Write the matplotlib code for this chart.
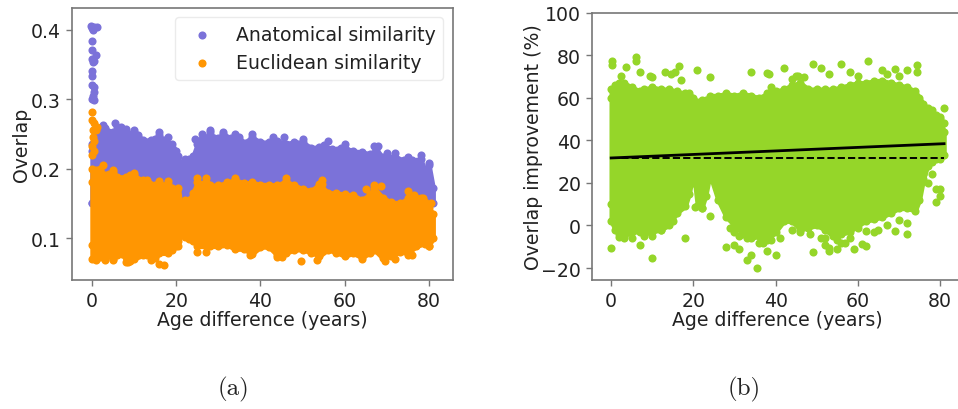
import matplotlib
matplotlib.use("Agg")
import matplotlib.pyplot as plt

# ==============================
# DATA
# ==============================

anat_age = [0, 0, 1, 2, 3, 5, 6, 8, 10, 11, 12, 14, 15, 16, 17, 19, 20, 20.5, 21, 22, 23, 24, 25, 26, 27, 28, 29, 30,
            31, 33, 35, 36, 38, 40, 42, 44, 46, 48, 50, 52, 54, 55, 57, 59, 60, 62, 64, 66, 67.5, 69, 70, 72, 74, 76,
            78, 79, 80, 81]
anat_top = [0.225, 0.235, 0.25, 0.252, 0.258, 0.252, 0.26, 0.252, 0.252, 0.248, 0.241, 0.241, 0.243, 0.248, 0.241,
            0.235, 0.225, 0.218, 0.205, 0.213, 0.214, 0.218, 0.235, 0.243, 0.244, 0.253, 0.244, 0.244, 0.25, 0.244,
            0.245, 0.237, 0.245, 0.238, 0.238, 0.24, 0.236, 0.238, 0.238, 0.23, 0.231, 0.234, 0.228, 0.23, 0.23,
            0.225, 0.224, 0.221, 0.228, 0.216, 0.218, 0.217, 0.212, 0.212, 0.214, 0.198, 0.205, 0.172]
anat_bottom = [0.15] * len(anat_age)

anat_spike_x = [-0.2, 0, 0.2, 0.4, 1.1, 0, 0, 0.4, 1.0, 0, 0.2, 0, 0, 0.1, 0.4, 0.5, -0.1, 0.3, 0.5]
anat_spike_y = [0.405, 0.402, 0.400, 0.403, 0.404, 0.383, 0.371, 0.355, 0.364, 0.357, 0.353, 0.340, 0.333, 0.320,
                0.318, 0.310, 0.300, 0.304, 0.298]
anat_edge_x = [2.5, 5.5, 7, 8, 10, 16, 18, 24.5, 26, 28, 31, 34, 38, 43, 45.5, 50, 56, 60, 67, 68, 70, 72, 75, 78, 80]
anat_edge_y = [0.262, 0.265, 0.26, 0.257, 0.256, 0.252, 0.245, 0.243, 0.25, 0.255, 0.253, 0.249, 0.25, 0.245, 0.245,
               0.242, 0.239, 0.235, 0.232, 0.232, 0.222, 0.222, 0.216, 0.219, 0.208]

eucl_age = [0, 0, 1, 2, 3, 4, 5, 6, 8, 9, 10, 12, 13, 15, 16, 18, 19, 20, 20.5, 21, 22, 23, 24, 25, 27, 28, 30, 32,
            34, 36, 38, 40, 42, 44, 46, 48, 50, 52, 54, 56, 58, 60, 62, 64, 66, 67, 69, 71, 73, 75, 77, 79, 80, 81]
eucl_top = [0.18, 0.2, 0.198, 0.2, 0.19, 0.192, 0.195, 0.188, 0.188, 0.19, 0.19, 0.183, 0.183, 0.176, 0.178, 0.178,
            0.172, 0.168, 0.172, 0.15, 0.154, 0.155, 0.165, 0.18, 0.18, 0.176, 0.176, 0.18, 0.184, 0.179, 0.18, 0.177,
            0.177, 0.176, 0.182, 0.176, 0.171, 0.168, 0.178, 0.165, 0.165, 0.163, 0.162, 0.155, 0.163, 0.172, 0.158,
            0.152, 0.15, 0.157, 0.157, 0.152, 0.143, 0.135]
eucl_bottom = [0.09, 0.07, 0.069, 0.073, 0.071, 0.075, 0.07, 0.076, 0.073, 0.067, 0.07, 0.075, 0.076, 0.071, 0.078,
               0.078, 0.083, 0.088, 0.096, 0.105, 0.102, 0.098, 0.096, 0.088, 0.088, 0.088, 0.088, 0.09, 0.084, 0.084,
               0.077, 0.087, 0.087, 0.075, 0.078, 0.083, 0.083, 0.079, 0.074, 0.083, 0.079, 0.074, 0.078, 0.072, 0.078,
               0.083, 0.071, 0.074, 0.08, 0.078, 0.088, 0.092, 0.089, 0.1]

eucl_spike_x = [0, 0, 0.4, 1.1, 0.3, 0.9, 0.2, 0.5, 0, 0.4, 0, 2.5, 16, 17, 49.5, 53.5, 25, 78.5, 80.5]
eucl_spike_y = [0.282, 0.27, 0.265, 0.26, 0.255, 0.255, 0.245, 0.24, 0.232, 0.225, 0.22, 0.205, 0.062, 0.061, 0.067,
                0.069, 0.186, 0.157, 0.15]
eucl_edge_x = [3, 5, 8, 8.5, 14, 20.5, 25, 27, 37.5, 44, 45, 64, 69.5, 72, 75, 76, 80, 5, 10, 16, 18, 27, 34, 46, 54.5,
               54.5, 65, 67, 68.5, 75, 76.5, 78]
eucl_edge_y = [0.068, 0.068, 0.065, 0.066, 0.068, 0.088, 0.08, 0.08, 0.075, 0.073, 0.073, 0.07, 0.067, 0.07, 0.076,
               0.076, 0.089, 0.198, 0.193, 0.182, 0.182, 0.186, 0.187, 0.186, 0.183, 0.178, 0.17, 0.176, 0.175, 0.167,
               0.162, 0.158]

green_age = [0, 0, 1, 2, 3, 5, 7, 8, 10, 12, 14, 16, 18, 19, 20, 21, 22, 23, 24, 26, 28, 30, 32, 34, 36, 38, 40, 42,
             44, 46, 48, 50, 52, 54, 56, 58, 60, 62, 64, 66, 68, 70, 72, 74, 75, 76, 77, 78, 79, 80, 81]
green_top = [60, 64, 66, 67, 67, 65, 63, 64, 65, 64, 64, 63, 62, 62, 60, 58, 59, 59, 61, 61, 62, 61, 62, 61, 60, 62,
             63, 64, 66, 67, 64, 64, 64, 64, 65, 66, 67, 67, 68, 68, 67, 66, 65, 63, 60, 57, 55, 54, 52, 50, 44]
green_bottom = [10, 2, -2, -4, -5, -3, -3, -4, -3, -2, 0, 6, 9, 15, 26, 9, 8, 14, 24, 12, 4, 0, -4, -6, -5, -7, -3,
                2, 2, -2, -1, 0, -2, -5, -4, -3, 0, 2, 3, 4, 6, 8, 8, 7, 12, 22, 28, 30, 31, 31, 33]

green_out_x = [0.2, 0.3, 6, 6, 3.5, 2.5, 7, 9.5, 10, 13, 14.5, 15.5, 16.5, 17, 21, 24, 34, 38, 38.5, 42, 45, 49, 51,
               53, 56, 58, 60, 62.5, 66, 67, 69, 70, 72, 74.5, 74.5, 81, 80, 81, 80, 0, 7, 10, 18, 28, 30, 31, 33, 34,
               35.5, 38, 40, 49, 52, 53, 53, 55, 57, 59, 61, 62, 69, 72, 72, 70, 76, 77, 78, 79, 80, 80, 79, 20, 20.5,
               22, 22, 24, 44, 45.5, 47, 39, 30, 29, 31, 33, 36, 37, 39, 41, 44, 46, 48.5, 51, 52, 55, 56, 58, 60, 62,
               64, 65, 67, 15, 12, 8, 5, 3, 2, 10]
green_out_y = [77, 75.5, 79, 77, 74.5, 70, 72, 70, 69.5, 72, 71, 72, 75, 68.5, 73, 69.5, 72, 71.5, 71, 74, 70, 76, 74,
               71, 76, 72, 70, 77, 73, 71, 73.5, 70, 73, 75.5, 72, 55, 51, 48, 47, -10.5, -9, -15.5, -6, -10, -9, -11,
               -16, -14, -20, -12, -14, -12.5, -9, -12, -10.5, -11, -8, -11, -8.5, -9.5, -2.5, -4, 1, 2.5, 24, 20, 24,
               17, 17, 14, 11, 20, 8.5, 8, 14, 4.5, 69, 70, 69.5, 65, -3, -1, -5, -6, -8, -8, -7, -6, -2, -3, -4, -6,
               -6, -7, -8, -6, -1, -2.5, -3, -2, 0, 2, -2, -5, -6, -6, -5.5, -5]

fit_age = [0, 81]
fit_line = [31.7, 38.4]
base_line = [31.7, 31.7]

x_ticks = [0, 20, 40, 60, 80]
overlap_ticks = [0.1, 0.2, 0.3, 0.4]
improve_ticks = [-20, 0, 20, 40, 60, 80, 100]

# ==============================
# ESTILO
# ==============================

W, H = 958, 410
PURPLE = "#7b72d9"
ORANGE = "#ff9602"
GREEN = "#95d629"
SPINE = "#777777"
TEXT = "#222222"
SIZE = 34
FS = 13.6

plt.rcParams["font.family"] = "DejaVu Sans"


def panel(x0, x1, y0, y1):
    ax = fig.add_axes([x0 / W, 1 - y1 / H, (x1 - x0) / W, (y1 - y0) / H])
    for s in ax.spines.values():
        s.set_color(SPINE)
        s.set_linewidth(1.2)
    ax.tick_params(labelsize=FS, colors=TEXT, length=4, width=1, color=SPINE, pad=4)
    ax.set_xticks(x_ticks)
    return ax


def blob(ax, age, top, bottom, color):
    # a wide edge closes the gaps between the dots, the dots keep the outline lumpy
    ax.fill_between(age, bottom, top, color=color, lw=3.2, joinstyle="round", zorder=2)
    ax.scatter(age, top, s=SIZE, color=color, lw=0, zorder=2)
    ax.scatter(age, bottom, s=SIZE, color=color, lw=0, zorder=2)


fig = plt.figure(figsize=(W / 100, H / 100), dpi=100)

# ==============================
# PANEL (a)
# ==============================

ax1 = panel(72, 453, 9, 281)
blob(ax1, anat_age, anat_top, anat_bottom, PURPLE)
ax1.scatter(anat_edge_x, anat_edge_y, s=SIZE, color=PURPLE, lw=0, zorder=2)
ax1.scatter(anat_spike_x, anat_spike_y, s=SIZE, color=PURPLE, lw=0, zorder=2, label="Anatomical similarity")
blob(ax1, eucl_age, eucl_top, eucl_bottom, ORANGE)
ax1.scatter(eucl_edge_x, eucl_edge_y, s=SIZE, color=ORANGE, lw=0, zorder=3)
ax1.scatter(eucl_spike_x, eucl_spike_y, s=SIZE, color=ORANGE, lw=0, zorder=3, label="Euclidean similarity")
ax1.set_xlim(-4.75, 85.7)
ax1.set_ylim(0.0396, 0.431)
ax1.set_yticks(overlap_ticks)
ax1.set_xlabel("Age difference (years)", fontsize=FS, color=TEXT, labelpad=0)
ax1.set_ylabel("Overlap", fontsize=FS, color=TEXT, labelpad=0)
ax1.legend(loc="upper right", fontsize=FS, bbox_to_anchor=(0.974, 0.967), borderaxespad=0, handletextpad=0.8,
           labelcolor=TEXT, scatterpoints=1, edgecolor="#e6e6e6")

# ==============================
# PANEL (b)
# ==============================

ax2 = panel(592.3, 962, 13.5, 281)
blob(ax2, green_age, green_top, green_bottom, GREEN)
ax2.scatter(green_out_x, green_out_y, s=SIZE, color=GREEN, lw=0, zorder=2)
ax2.plot(fit_age, fit_line, color="black", lw=2, zorder=4)
ax2.plot(fit_age, base_line, color="black", lw=1.4, ls="--", zorder=4)
ax2.set_xlim(-4.6, 85.37)
ax2.set_ylim(-25.6, 100)
ax2.set_yticks(improve_ticks)
ax2.set_xlabel("Age difference (years)", fontsize=FS, color=TEXT, labelpad=0)
ax2.set_ylabel("Overlap improvement (%)", fontsize=FS, color=TEXT, labelpad=-1)

# ==============================
# SUBTITULOS
# ==============================

fig.text(233 / W, 1 - 389 / H, "(a)", fontsize=18, family="cmr10", color=TEXT, ha="center", va="center")
fig.text(744 / W, 1 - 389 / H, "(b)", fontsize=18, family="cmr10", color=TEXT, ha="center", va="center")

fig.savefig("out.png", dpi=100)
